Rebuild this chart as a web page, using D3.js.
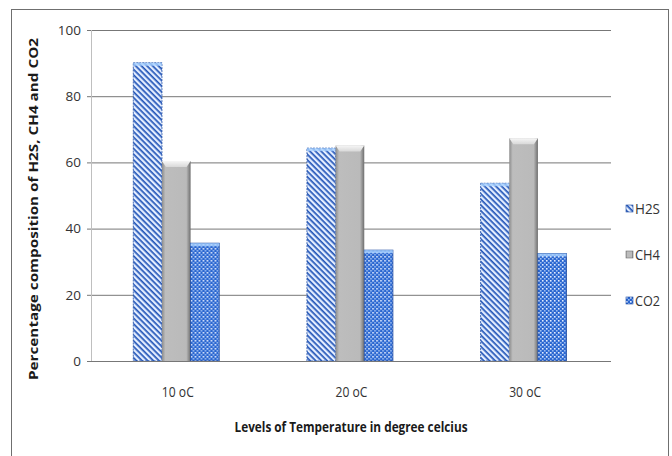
<!DOCTYPE html>
<html>
<head>
<meta charset="utf-8">
<script src="https://cdn.jsdelivr.net/npm/d3@7"></script>
<style>
  html, body { margin: 0; padding: 0; background: #ffffff; }
  svg { display: block; }
</style>
</head>
<body>
<div id="chart"></div>
<script>
// Chart data
const categories = ['10 oC', '20 oC', '30 oC'];
const series = ['H2S', 'CH4', 'CO2'];
const h2sValues = [90.1, 64.3, 53.7];
const ch4Values = [60.4, 65.1, 67.3];
const co2Values = [35.6, 33.5, 32.5];
const yTicks = [0, 20, 40, 60, 80, 100];

const valuesBySeries = { H2S: h2sValues, CH4: ch4Values, CO2: co2Values };
const rows = [];
categories.forEach((c, i) => {
  series.forEach(s => rows.push({ cat: c, key: s, value: valuesBySeries[s][i] }));
});

const W = 672, H = 456;
const plot = { left: 91, right: 610, top: 30, bottom: 361 };
const font = '"Open Sans", "Liberation Sans", sans-serif';

const svg = d3.select('#chart').append('svg')
  .attr('width', W)
  .attr('height', H)
  .style('font-family', font);

// Patterns and gradients used by the bars
const defs = svg.append('defs');

const stripes = defs.append('pattern')
  .attr('id', 'pat-h2s')
  .attr('patternUnits', 'userSpaceOnUse')
  .attr('width', 4).attr('height', 4)
  .attr('patternTransform', 'rotate(45)');
stripes.append('rect').attr('width', 4).attr('height', 4).attr('fill', '#e4eeff');
stripes.append('rect').attr('width', 4).attr('height', 1.7).attr('fill', '#2356b8');

const dots = defs.append('pattern')
  .attr('id', 'pat-co2')
  .attr('patternUnits', 'userSpaceOnUse')
  .attr('width', 4).attr('height', 4);
dots.append('rect').attr('width', 4).attr('height', 4).attr('fill', '#2a66d0');
dots.append('rect').attr('x', 0).attr('y', 0).attr('width', 1.6).attr('height', 1.6).attr('fill', '#e8f0ff');
dots.append('rect').attr('x', 2).attr('y', 2).attr('width', 1.6).attr('height', 1.6).attr('fill', '#9ec0f2');

const grayGrad = defs.append('linearGradient')
  .attr('id', 'grad-ch4')
  .attr('x1', '0%').attr('x2', '100%').attr('y1', '0%').attr('y2', '0%');
grayGrad.append('stop').attr('offset', '0%').attr('stop-color', '#8c8c8c');
grayGrad.append('stop').attr('offset', '12%').attr('stop-color', '#bdbdbd');
grayGrad.append('stop').attr('offset', '85%').attr('stop-color', '#bababa');
grayGrad.append('stop').attr('offset', '100%').attr('stop-color', '#6e6e6e');

const capGrad = defs.append('linearGradient')
  .attr('id', 'grad-cap')
  .attr('x1', '0%').attr('x2', '0%').attr('y1', '0%').attr('y2', '100%');
capGrad.append('stop').attr('offset', '0%').attr('stop-color', '#f6f6f6');
capGrad.append('stop').attr('offset', '100%').attr('stop-color', '#d8d8d8');

const fills = { H2S: 'url(#pat-h2s)', CH4: 'url(#grad-ch4)', CO2: 'url(#pat-co2)' };
const strokes = { H2S: '#1f4ea6', CH4: 'none', CO2: '#1d4aa0' };

// Outer chart border
svg.append('rect')
  .attr('x', 11.5).attr('y', 9.5)
  .attr('width', 657).attr('height', 460)
  .attr('fill', 'none')
  .attr('stroke', '#6f6f6f')
  .attr('stroke-width', 1);

// Scales
const y = d3.scaleLinear().domain([0, 100]).range([plot.bottom, plot.top]);
const x0 = d3.scaleBand().domain(categories).range([plot.left - 2, plot.right]).padding(0);
const x1 = d3.scaleBand().domain(series)
  .range([x0.bandwidth() * 0.255, x0.bandwidth() * 0.75]).padding(0);

// Gridlines and y axis
const yAxis = d3.axisLeft(y)
  .tickValues(yTicks)
  .tickSize(-(plot.right - plot.left + 5))
  .tickPadding(6)
  .tickFormat(d3.format('d'));

const gy = svg.append('g')
  .attr('transform', `translate(${plot.left - 4},0)`)
  .call(yAxis);
gy.select('.domain').remove();
gy.selectAll('.tick line')
  .attr('stroke', '#777777')
  .attr('stroke-width', 1);
gy.selectAll('.tick text')
  .attr('fill', '#333333')
  .style('font-size', '13.5px')
  .style('font-family', font);

// Left axis line (light)
svg.append('line')
  .attr('x1', plot.left + 0.5).attr('x2', plot.left + 0.5)
  .attr('y1', plot.top).attr('y2', plot.bottom)
  .attr('stroke', '#bfbfbf');

// Bars
const bars = svg.append('g').selectAll('g.bar')
  .data(rows)
  .enter()
  .append('g')
  .attr('class', 'bar')
  .attr('transform', d => `translate(${x0(d.cat) + x1(d.key)},0)`);

bars.append('rect')
  .attr('x', 0)
  .attr('y', d => y(d.value))
  .attr('width', x1.bandwidth())
  .attr('height', d => y(0) - y(d.value))
  .attr('fill', d => fills[d.key])
  .attr('stroke', d => strokes[d.key])
  .attr('stroke-width', 0.8)
  .attr('stroke-dasharray', d => d.key === 'H2S' ? '2,1' : null);

// Bevel cap on the gray CH4 bars
bars.filter(d => d.key === 'CH4')
  .append('path')
  .attr('d', d => {
    const w = x1.bandwidth();
    const t = y(d.value);
    return `M0,${t} L${w},${t} L${w - 4},${t + 6} L4,${t + 6} Z`;
  })
  .attr('fill', 'url(#grad-cap)');

// Light top edge on patterned bars
bars.filter(d => d.key !== 'CH4')
  .append('rect')
  .attr('x', 0)
  .attr('y', d => y(d.value))
  .attr('width', x1.bandwidth())
  .attr('height', 3)
  .attr('fill', '#a9d2ff')
  .attr('opacity', 0.8);

// Bottom axis line
svg.append('line')
  .attr('x1', plot.left - 4).attr('x2', plot.right)
  .attr('y1', plot.bottom + 0.5).attr('y2', plot.bottom + 0.5)
  .attr('stroke', '#777777');

// Category labels (narrowed to mimic the condensed original font)
svg.append('g').selectAll('text')
  .data(categories)
  .enter()
  .append('text')
  .attr('x', d => x0(d) + x0.bandwidth() / 2 + 2)
  .attr('y', 397)
  .attr('text-anchor', 'middle')
  .attr('fill', '#333333')
  .style('font-size', '14px')
  .attr('textLength', 32)
  .attr('lengthAdjust', 'spacingAndGlyphs')
  .text(d => d);

// Axis titles
svg.append('text')
  .attr('x', 351)
  .attr('y', 432)
  .attr('text-anchor', 'middle')
  .attr('fill', '#1a1a1a')
  .style('font-size', '13.5px')
  .style('font-weight', 'bold')
  .attr('textLength', 233)
  .attr('lengthAdjust', 'spacingAndGlyphs')
  .text('Levels of Temperature in degree celcius');

svg.append('text')
  .attr('transform', 'translate(38,209) rotate(-90)')
  .attr('text-anchor', 'middle')
  .attr('fill', '#1a1a1a')
  .style('font-size', '13px')
  .style('font-weight', 'bold')
  .attr('textLength', 342)
  .attr('lengthAdjust', 'spacingAndGlyphs')
  .text('Percentage composition of H2S, CH4 and CO2');

// Legend
const legend = svg.append('g').selectAll('g')
  .data(series)
  .enter()
  .append('g')
  .attr('transform', (d, i) => `translate(626,${209 + i * 46})`);

legend.append('rect')
  .attr('x', 0).attr('y', -4)
  .attr('width', 7).attr('height', 7)
  .attr('fill', d => fills[d])
  .attr('stroke', d => d === 'CH4' ? '#6e6e6e' : '#1d4aa0')
  .attr('stroke-width', 0.6);

legend.append('text')
  .attr('x', 9)
  .attr('y', 5)
  .attr('fill', '#333333')
  .style('font-size', '14px')
  .attr('textLength', 25)
  .attr('lengthAdjust', 'spacingAndGlyphs')
  .text(d => d);
</script>
</body>
</html>
